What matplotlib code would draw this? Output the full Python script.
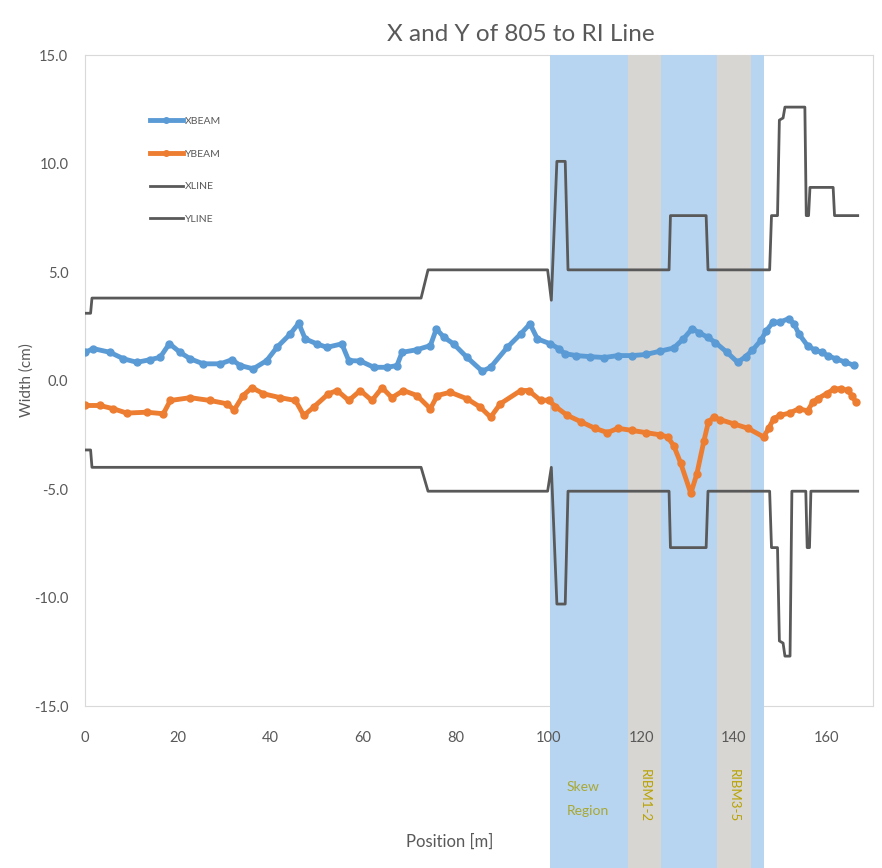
import numpy as np
import matplotlib.pyplot as plt
from matplotlib.patches import Rectangle

plt.rcParams['font.family'] = ['Lato', 'DejaVu Sans']

# beam widths (position in m, width in cm)
xbeam_pos = [0, 1.8, 5.4, 8.3, 11.2, 14, 16.2, 18.2, 20.5, 22.7, 25.5, 29.2, 31.7, 33.5,
             36.3, 39.2, 41.4, 44.3, 46.1, 47.5, 50, 52.2, 55.4, 56.9, 59.4, 62.3, 65.2,
             67.3, 68.4, 71.6, 74.5, 75.8, 77.4, 79.5, 82.4, 85.7, 87.5, 91.1, 94, 96,
             97.6, 100.4, 102.2, 103.5, 106, 109, 112, 115, 118, 121, 124, 127, 129,
             131, 132.5, 134.3, 136, 138.5, 140.8, 142.5, 144, 145.8, 147, 148.4, 150,
             151.8, 153, 154, 155.9, 157.5, 159, 160.2, 162, 164, 165.9]
xbeam = [1.30, 1.47, 1.30, 1.0, 0.84, 0.96, 1.07, 1.70, 1.30, 1.0, 0.77, 0.77, 0.96, 0.69,
         0.54, 0.92, 1.53, 2.15, 2.64, 1.92, 1.69, 1.53, 1.69, 0.92, 0.90, 0.61, 0.61,
         0.69, 1.30, 1.42, 1.61, 2.38, 2.0, 1.69, 1.07, 0.43, 0.61, 1.53, 2.15, 2.61,
         1.92, 1.69, 1.47, 1.24, 1.15, 1.10, 1.06, 1.15, 1.15, 1.20, 1.35, 1.50, 1.90,
         2.39, 2.20, 2.0, 1.75, 1.30, 0.84, 1.10, 1.40, 1.85, 2.30, 2.68, 2.70,
         2.85, 2.60, 2.15, 1.60, 1.40, 1.30, 1.15, 1.0, 0.85, 0.70]

ybeam_pos = [0, 3.2, 6.1, 9, 13.3, 16.9, 18.4, 22.7, 27, 30.6, 32.2, 34.1, 36, 38.5,
             42.1, 45.4, 47.2, 49.3, 52.5, 54.4, 56.9, 59.4, 61.9, 64.1, 66.2, 68.7,
             71.6, 74.5, 76, 78.8, 82.4, 85.3, 87.5, 89.6, 94, 95.7, 98.3, 100, 101.5,
             104, 107, 110, 112.7, 115, 118, 121, 124, 125.7, 127, 128.5, 130.7, 132,
             133.5, 134.5, 135.6, 137, 140, 143, 146.4, 147.5, 148.6, 150, 152, 154,
             155.9, 157, 158.1, 160, 161.5, 163, 164.5, 165.5, 166.3]
ybeam = [-1.15, -1.15, -1.30, -1.50, -1.46, -1.53, -0.92, -0.79, -0.92, -1.07, -1.35, -0.69,
         -0.33, -0.61, -0.79, -0.92, -1.61, -1.23, -0.61, -0.46, -0.92, -0.46, -0.92,
         -0.33, -0.79, -0.46, -0.69, -1.30, -0.69, -0.54, -0.84, -1.23, -1.69, -1.07,
         -0.46, -0.46, -0.92, -0.90, -1.20, -1.60, -1.90, -2.20, -2.40, -2.20, -2.30,
         -2.40, -2.50, -2.60, -3.0, -3.8, -5.2, -4.3, -2.8, -1.9, -1.7, -1.8, -2.0,
         -2.2, -2.6, -2.2, -1.75, -1.6, -1.5, -1.3, -1.4, -1.0, -0.83, -0.6, -0.4,
         -0.37, -0.45, -0.7, -1.0]

# aperture envelope
xline_pos = [0, 1.2, 1.5, 72.5, 74, 99.8, 100.6, 101.8, 103.6, 104.2, 126, 126.3, 134,
             134.4, 147.7, 148.1, 149.4, 149.8, 150.6, 151, 155.3, 155.6, 156.1, 156.4,
             161.4, 161.7, 166.7]
xline = [3.1, 3.1, 3.8, 3.8, 5.1, 5.1, 3.7, 10.1, 10.1, 5.1, 5.1, 7.6, 7.6,
         5.1, 5.1, 7.6, 7.6, 12.0, 12.1, 12.6, 12.6, 7.6, 7.6, 8.9,
         8.9, 7.6, 7.6]
yline_pos = [0, 1.2, 1.5, 72.5, 74, 99.8, 100.6, 101.8, 103.6, 104.2, 126, 126.3, 134,
             134.4, 147.7, 148.1, 149.4, 149.8, 150.6, 151, 152.1, 152.5, 155.5, 155.8,
             156.3, 156.6, 166.7]
yline = [-3.2, -3.2, -4.0, -4.0, -5.1, -5.1, -4.0, -10.3, -10.3, -5.1, -5.1, -7.7, -7.7,
         -5.1, -5.1, -7.7, -7.7, -12.0, -12.1, -12.7, -12.7, -5.1, -5.1, -7.7,
         -7.7, -5.1, -5.1]

# shaded sections (m)
skew = (100.4, 146.4)
ribm = [(117.1, 124.2, 'RIBM1-2'), (136.4, 143.6, 'RIBM3-5')]

grey = '#595959'
fig = plt.figure(figsize=(8.82, 8.68), dpi=100)
ax = fig.add_axes([0.0964, 0.1866, 0.8934, 0.750])

trans = ax.get_xaxis_transform()
ax.add_patch(Rectangle((skew[0], -0.25), skew[1] - skew[0], 1.25, transform=trans,
                       color='#B7D5F0', lw=0, clip_on=False, zorder=0.5))
for x0, x1, lab in ribm:
    ax.add_patch(Rectangle((x0, -0.25), x1 - x0, 1.25, transform=trans,
                           color='#D8D6D2', lw=0, clip_on=False, zorder=0.6))
    ax.text((x0 + x1) / 2, -0.137, lab, transform=trans, rotation=270, ha='center',
            va='center', fontsize=9.5, color='#B8A200')
ax.text(skew[0] + 3.5, -0.143, 'Skew\nRegion', transform=trans, ha='left', va='center',
        fontsize=10, color='#A9A834', linespacing=2.2)

ax.plot(xbeam_pos, xbeam, color='#5B9BD5', lw=3.5, marker='o', ms=5, label='XBEAM', zorder=3)
ax.plot(ybeam_pos, ybeam, color='#ED7D31', lw=3.5, marker='o', ms=5, label='YBEAM', zorder=3)
ax.plot(xline_pos, xline, color=grey, lw=2, label='XLINE', zorder=2)
ax.plot(yline_pos, yline, color=grey, lw=2, label='YLINE', zorder=2)

ax.set_xlim(0, 170)
ax.set_ylim(-15, 15)
ax.set_xticks(np.arange(0, 161, 20))
ax.set_yticks(np.arange(-15, 16, 5))
ax.set_yticklabels([f'{v:.1f}' for v in np.arange(-15, 16, 5)])
ax.tick_params(length=0, labelsize=10.5, labelcolor=grey)
ax.tick_params(axis='x', pad=18)
ax.tick_params(axis='y', pad=12)
for s in ax.spines.values():
    s.set_color('#D9D9D9')
    s.set_zorder(0.4)

ax.set_title('X and Y of 805 to RI Line', fontsize=17.5, color=grey, x=0.553, pad=10)
ax.set_ylabel('Width (cm)', fontsize=11, color=grey, labelpad=0)
fig.text(0.51, 0.03, 'Position [m]', fontsize=12, color=grey, ha='center', va='center')

leg = ax.legend(loc='upper left', bbox_to_anchor=(0.07, 0.92), frameon=False,
                fontsize=7.5, labelspacing=2.25, handlelength=3.2, handletextpad=0.2,
                markerscale=0.8)
for t in leg.get_texts():
    t.set_color(grey)

fig.savefig('out.png', dpi=100)
